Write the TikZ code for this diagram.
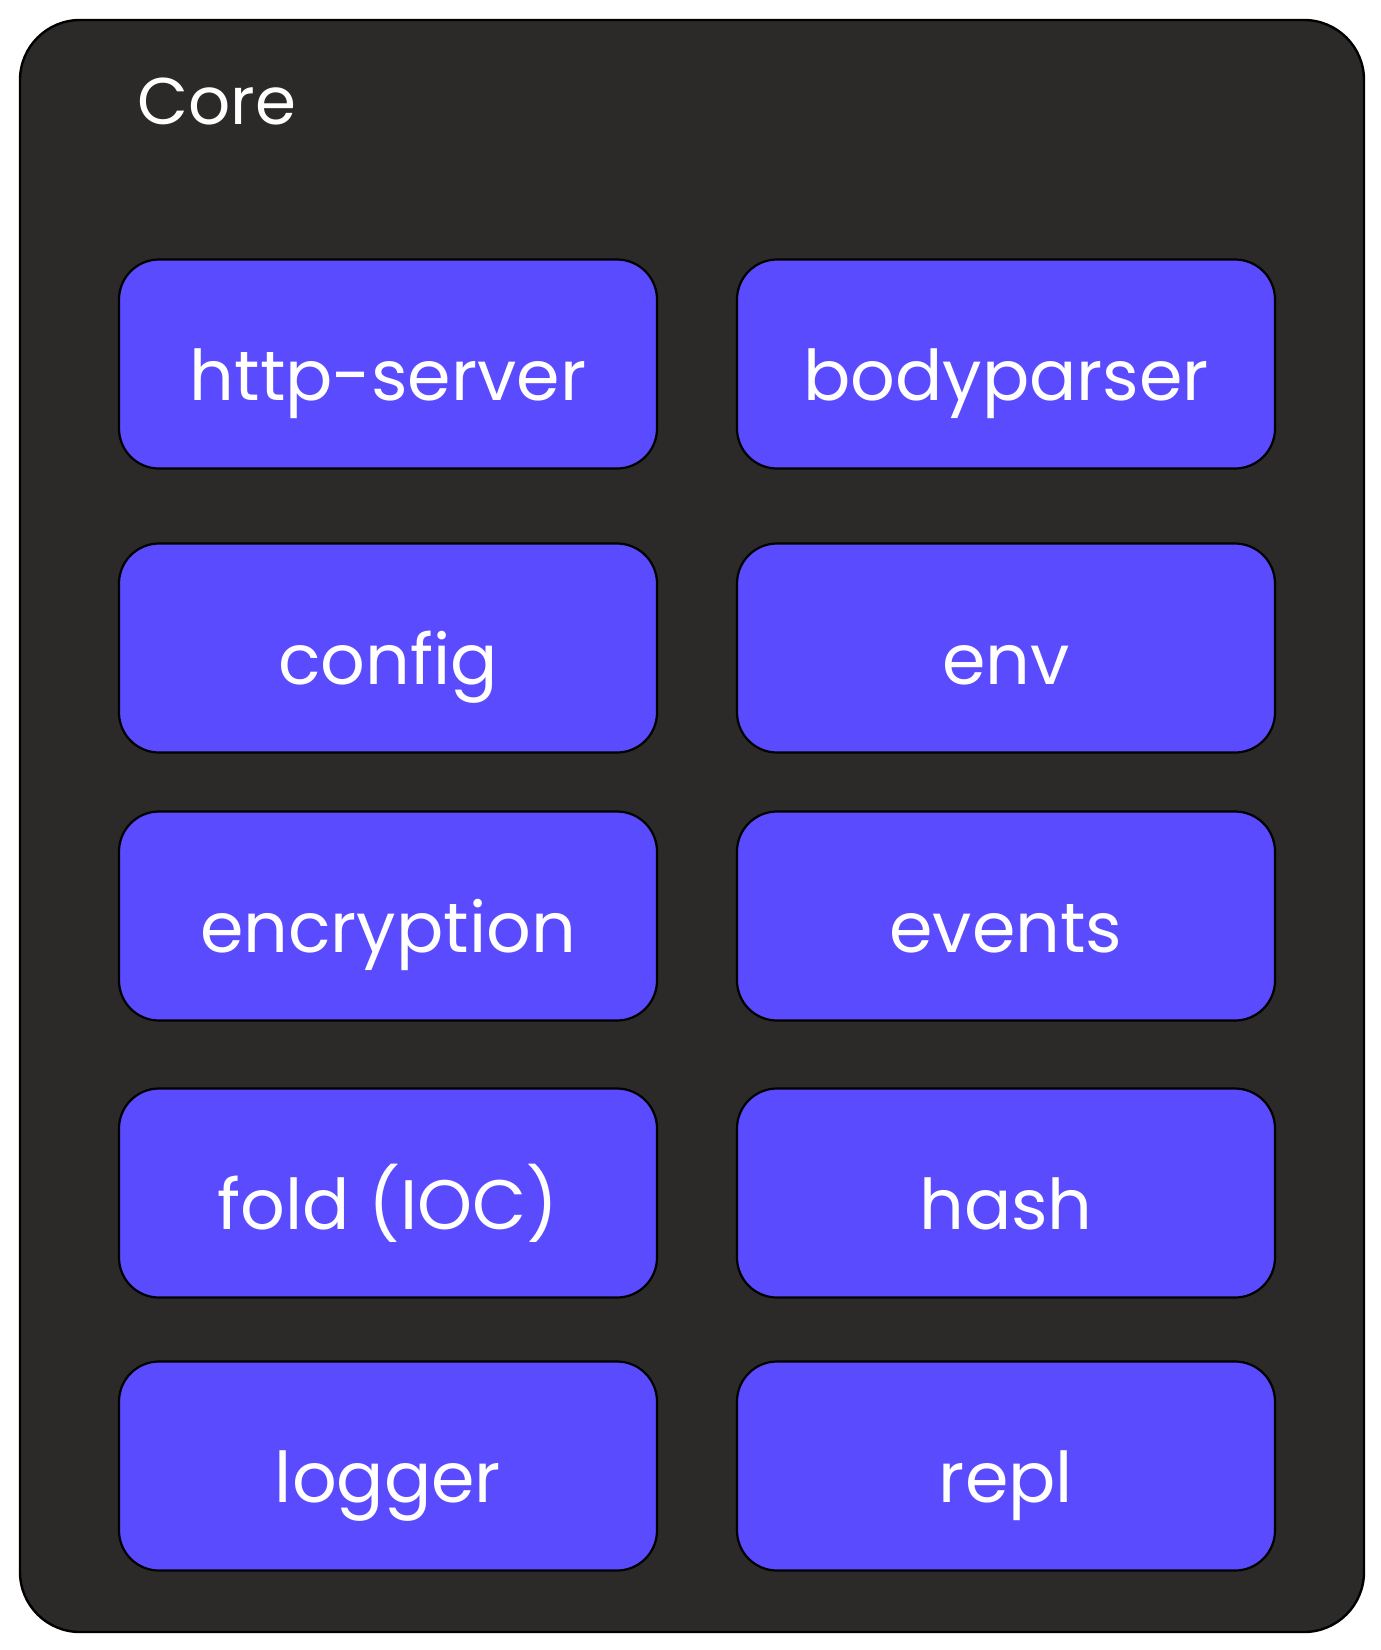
\documentclass[tikz,border=0pt]{standalone}
\usepackage{fontspec}
\setmainfont{Poppins}
\definecolor{panel}{HTML}{2C2A29}
\definecolor{modfill}{HTML}{5B4BFF}
\newcommand{\modlabel}[1]{\raisebox{-18pt}[0pt][0pt]{#1}}
\begin{document}
\begin{tikzpicture}[x=0.5pt,y=-0.5pt,
  panelbox/.style={draw=black, line width=1.2pt, fill=panel, rounded corners=30pt},
  modbox/.style={draw=black, line width=1.1pt, fill=modfill, rounded corners=20pt,
    text=white, font=\fontsize{35}{40}\selectfont,
    minimum width=269pt, minimum height=104.5pt, inner sep=0pt},
  paneltitle/.style={text=white, font=\fontsize{33}{38}\selectfont, inner sep=0pt}]
\useasboundingbox (0,0) rectangle (1381,1650);
\draw[panelbox] (20,20) rectangle (1364,1632);
\node[paneltitle, anchor=base west] (core) at (137,124) {Core};
\node[modbox] (http) at (388,364) {\modlabel{http-server}};
\node[modbox] (body) at (1006,364) {\modlabel{bodyparser}};
\node[modbox] (config) at (388,648) {\modlabel{config}};
\node[modbox] (env) at (1006,648) {\modlabel{env}};
\node[modbox] (enc) at (388,916) {\modlabel{encryption}};
\node[modbox] (events) at (1006,916) {\modlabel{events}};
\node[modbox] (fold) at (388,1193) {\modlabel{fold (IOC)}};
\node[modbox] (hash) at (1006,1193) {\modlabel{hash}};
\node[modbox] (logger) at (388,1466) {\modlabel{logger}};
\node[modbox] (repl) at (1006,1466) {\modlabel{repl}};
\end{tikzpicture}
\end{document}
